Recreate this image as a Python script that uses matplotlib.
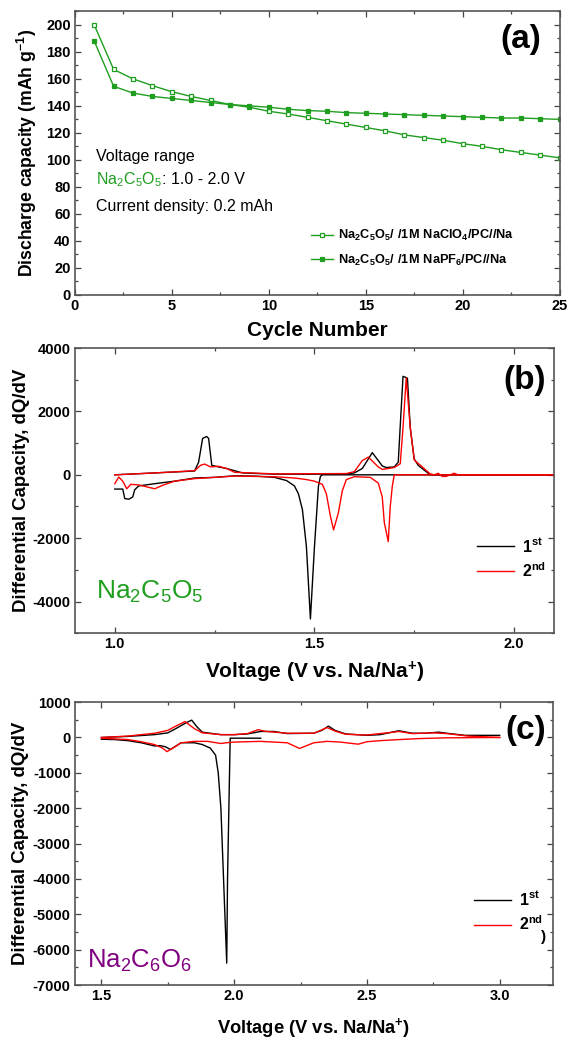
import numpy as np
import matplotlib
matplotlib.use('Agg')
import matplotlib.pyplot as plt
from matplotlib.ticker import MultipleLocator
from matplotlib.transforms import offset_copy

plt.rcParams['font.family'] = ['Liberation Sans', 'DejaVu Sans']
plt.rcParams['mathtext.fontset'] = 'custom'
plt.rcParams['mathtext.rm'] = 'Liberation Sans'
plt.rcParams['mathtext.bf'] = 'Liberation Sans:bold'
plt.rcParams['mathtext.default'] = 'regular'
plt.rcParams['axes.unicode_minus'] = False

GREEN = '#1f9e1f'
PURPLE = '#800080'

# ---- (a) discharge capacity vs cycle
cycles = np.arange(1, 26)
cap_clo4 = [200, 167, 160, 155, 150.5, 147, 144, 141, 139, 136, 134, 131.5, 129,
            126.5, 124, 121.5, 118.5, 116.5, 114.5, 112, 110, 107.5, 105.5, 103.5, 101.5]
cap_pf6 = [188, 154.5, 149.5, 147, 145.5, 144, 142.5, 141, 140, 139, 137.5, 136.5, 136,
           135, 134.5, 134, 133.5, 133, 132.5, 132, 131.5, 131, 131, 130.5, 130]
label_clo4 = r'$\mathbf{Na_2C_5O_5/\ /1M\ NaClO_4/PC//Na}$'
label_pf6 = r'$\mathbf{Na_2C_5O_5/\ /1M\ NaPF_6/PC//Na}$'

# ---- (b) dQ/dV Na2C5O5
b1_chg_v = [1.00, 1.10, 1.20, 1.21, 1.22, 1.23, 1.235, 1.243, 1.26, 1.28, 1.32, 1.40, 1.50,
            1.58, 1.60, 1.62, 1.635, 1.645, 1.66, 1.67, 1.68, 1.70, 1.71, 1.717, 1.722,
            1.728, 1.733, 1.74, 1.75, 1.76, 1.78, 1.79, 2.10]
b1_chg_q = [0, 60, 120, 400, 1150, 1210, 1150, 300, 250, 200, 60, 20, 20,
            30, 60, 200, 500, 700, 450, 280, 230, 250, 400, 2000, 3110,
            3080, 3050, 1500, 500, 300, 100, 0, 0]
b1_dis_v = [2.10, 1.52, 1.515, 1.51, 1.50, 1.49, 1.48, 1.47, 1.46, 1.45, 1.43, 1.40,
            1.35, 1.30, 1.25, 1.20, 1.15, 1.10, 1.06, 1.05, 1.045, 1.035, 1.025, 1.02, 1.00]
b1_dis_q = [0, 0, -50, -370, -2300, -4550, -2270, -1100, -600, -350, -180, -80,
            -40, -30, -80, -100, -200, -280, -350, -470, -700, -770, -750, -450, -450]
b2_chg_v = [1.00, 1.10, 1.20, 1.215, 1.225, 1.24, 1.26, 1.28, 1.30, 1.40, 1.58, 1.60,
            1.62, 1.635, 1.66, 1.67, 1.70, 1.715, 1.722, 1.73, 1.74, 1.75, 1.77, 1.79,
            1.80, 1.81, 1.82, 1.83, 1.84, 1.85, 1.86, 2.10]
b2_chg_q = [0, 60, 130, 300, 340, 250, 270, 200, 80, 30, 40, 100,
            450, 560, 250, 170, 230, 350, 1500, 3060, 1500, 470, 250, 30,
            0, 50, -50, -50, 0, 50, 0, 0]
b2_dis_v = [2.10, 1.70, 1.695, 1.69, 1.685, 1.675, 1.67, 1.66, 1.64, 1.60, 1.58, 1.57,
            1.56, 1.548, 1.54, 1.53, 1.52, 1.50, 1.48, 1.45, 1.40, 1.30, 1.20, 1.15,
            1.12, 1.10, 1.08, 1.06, 1.04, 1.03, 1.02, 1.01, 1.00]
b2_dis_q = [0, 0, -370, -1000, -2110, -1500, -700, -260, -80, -60, -150, -500,
            -1200, -1740, -1300, -600, -300, -200, -150, -100, -60, -40, -120, -200,
            -330, -440, -380, -320, -300, -440, -200, -70, -280]

# ---- (c) dQ/dV Na2C6O6
c1_chg_v = [1.50, 1.60, 1.70, 1.75, 1.78, 1.82, 1.84, 1.86, 1.88, 1.95, 2.00, 2.05, 2.10,
            2.15, 2.20, 2.30, 2.33, 2.355, 2.38, 2.42, 2.50, 2.55, 2.62, 2.67, 2.72,
            2.77, 2.80, 2.87, 3.00]
c1_chg_q = [0, 30, 80, 130, 250, 420, 490, 300, 150, 80, 80, 100, 170,
            170, 110, 120, 200, 320, 200, 100, 60, 80, 190, 120, 120,
            150, 120, 60, 60]
c2_chg_v = [1.50, 1.60, 1.70, 1.75, 1.78, 1.815, 1.85, 1.88, 1.95, 2.00, 2.05, 2.09,
            2.12, 2.20, 2.30, 2.35, 2.38, 2.42, 2.50, 2.60, 2.62, 2.67, 2.75, 2.80,
            2.88, 3.00]
c2_chg_q = [0, 40, 120, 200, 320, 450, 250, 130, 80, 80, 110, 220,
            170, 120, 120, 280, 180, 90, 70, 150, 170, 110, 130, 110,
            40, 0]
c1_dis_v = [2.10, 1.985, 1.975, 1.972, 1.965, 1.96, 1.95, 1.94, 1.93, 1.91, 1.88, 1.85,
            1.80, 1.76, 1.74, 1.72, 1.70, 1.65, 1.60, 1.55, 1.50]
c1_dis_q = [-20, -20, -4000, -6380, -5000, -4000, -2000, -1000, -500, -300, -200, -150,
            -150, -340, -260, -230, -240, -150, -90, -60, -50]
c2_dis_v = [3.00, 2.80, 2.70, 2.62, 2.55, 2.50, 2.467, 2.40, 2.35, 2.30, 2.246, 2.20,
            2.10, 2.00, 1.97, 1.95, 1.90, 1.85, 1.80, 1.78, 1.747, 1.73, 1.70, 1.65,
            1.60, 1.50]
c2_dis_q = [0, -10, -30, -60, -90, -120, -190, -130, -110, -150, -310, -150,
            -110, -130, -150, -170, -110, -110, -150, -250, -400, -300, -200, -120,
            -60, -20]

first_lab = r'1$^{\mathbf{st}}$'
second_lab = r'2$^{\mathbf{nd}}$'
volt_lab = r'Voltage (V vs. Na/Na$^{\mathbf{+}}$)'


def style_axes(ax):
    for s in ax.spines.values():
        s.set_color('#555555')
        s.set_linewidth(1.2)
    ax.tick_params(which='both', direction='in', top=True, right=True,
                   labelsize=10.5, width=0.9, color='#444444', pad=3)
    ax.tick_params(which='major', length=4)
    ax.tick_params(which='minor', length=2.5)
    for lab in ax.get_xticklabels() + ax.get_yticklabels():
        lab.set_fontweight('bold')


fig = plt.figure(figsize=(5.67, 10.38), dpi=100)

# (a)
ax1 = fig.add_axes([0.132, 0.716, 0.855, 0.273])
ax1.plot(cycles, cap_clo4, '-s', color=GREEN, lw=1, ms=3.2, mfc='white', mew=0.9,
         label=label_clo4)
ax1.plot(cycles, cap_pf6, '-s', color=GREEN, lw=1, ms=3.2, mew=0.9, label=label_pf6)
ax1.set_xlim(0, 25)
ax1.set_ylim(0, 210)
ax1.xaxis.set_major_locator(MultipleLocator(5))
ax1.xaxis.set_minor_locator(MultipleLocator(2.5))
ax1.yaxis.set_major_locator(MultipleLocator(20))
ax1.yaxis.set_minor_locator(MultipleLocator(10))
ax1.set_xlabel('Cycle Number', fontsize=15, fontweight='bold', labelpad=6)
ax1.set_ylabel(r'Discharge capacity (mAh g$^{\mathbf{-1}}$)', fontsize=12.7,
               fontweight='bold', labelpad=5)
style_axes(ax1)
ax1.text(0.961, 0.90, '(a)', transform=ax1.transAxes, ha='right', va='center',
         fontsize=24, fontweight='bold')
ax1.text(0.043, 0.488, 'Voltage range', transform=ax1.transAxes, fontsize=11.5, va='center')
t_na = ax1.text(0.043, 0.406, r'Na$_2$C$_5$O$_5$', transform=ax1.transAxes, fontsize=11.5,
                color=GREEN, va='center')
fig.canvas.draw()
w_na = t_na.get_window_extent().width
ax1.text(0.043, 0.406, ': 1.0 - 2.0 V', fontsize=11.5, va='center',
         transform=offset_copy(ax1.transAxes, fig=fig, x=w_na, y=0, units='dots'))
ax1.text(0.043, 0.311, 'Current density: 0.2 mAh', transform=ax1.transAxes, fontsize=11.5,
         va='center')
ax1.legend(loc='upper left', bbox_to_anchor=(0.487, 0.235), frameon=False,
           prop={'size': 9.2}, handlelength=1.7, handletextpad=0.4, labelspacing=0.75,
           borderpad=0, borderaxespad=0)

# (b)
ax2 = fig.add_axes([0.132, 0.390, 0.845, 0.2746])
ax2.plot(b1_chg_v, b1_chg_q, color='black', lw=1, label=first_lab)
ax2.plot(b1_dis_v, b1_dis_q, color='black', lw=1)
ax2.plot(b2_chg_v, b2_chg_q, color='red', lw=1, label=second_lab)
ax2.plot(b2_dis_v, b2_dis_q, color='red', lw=1)
ax2.set_xlim(0.9, 2.1)
ax2.set_ylim(-5000, 4000)
ax2.xaxis.set_major_locator(MultipleLocator(0.5))
ax2.xaxis.set_minor_locator(MultipleLocator(0.25))
ax2.yaxis.set_major_locator(MultipleLocator(2000))
ax2.yaxis.set_minor_locator(MultipleLocator(1000))
ax2.set_xlabel(volt_lab, fontsize=15, fontweight='bold', labelpad=6)
ax2.set_ylabel('Differential Capacity, dQ/dV', fontsize=13.4, fontweight='bold', labelpad=2)
style_axes(ax2)
ax2.text(0.983, 0.888, '(b)', transform=ax2.transAxes, ha='right', va='center',
         fontsize=24, fontweight='bold')
ax2.text(0.045, 0.12, r'Na$_2$C$_5$O$_5$', transform=ax2.transAxes, fontsize=19, color=GREEN)
ax2.legend(loc='upper left', bbox_to_anchor=(0.839, 0.338), frameon=False,
           prop={'size': 11.5, 'weight': 'bold'}, handlelength=2.3, handletextpad=0.5,
           labelspacing=0.4, borderpad=0, borderaxespad=0)

# (c)
ax3 = fig.add_axes([0.132, 0.051, 0.843, 0.2726])
ax3.plot(c1_chg_v, c1_chg_q, color='black', lw=1, label=first_lab)
ax3.plot(c1_dis_v, c1_dis_q, color='black', lw=1)
ax3.plot(c2_chg_v, c2_chg_q, color='red', lw=1, label=second_lab)
ax3.plot(c2_dis_v, c2_dis_q, color='red', lw=1)
ax3.set_xlim(1.4, 3.2)
ax3.set_ylim(-7000, 1000)
ax3.xaxis.set_major_locator(MultipleLocator(0.5))
ax3.xaxis.set_minor_locator(MultipleLocator(0.25))
ax3.yaxis.set_major_locator(MultipleLocator(1000))
ax3.yaxis.set_minor_locator(MultipleLocator(500))
ax3.set_xlabel(volt_lab, fontsize=13.2, fontweight='bold', labelpad=9)
ax3.set_ylabel('Differential Capacity, dQ/dV', fontsize=13.4, fontweight='bold', labelpad=3)
style_axes(ax3)
ax3.text(0.985, 0.90, '(c)', transform=ax3.transAxes, ha='right', va='center',
         fontsize=24, fontweight='bold')
ax3.text(0.025, 0.06, r'Na$_2$C$_6$O$_6$', transform=ax3.transAxes, fontsize=18.5,
         color=PURPLE)
ax3.text(0.975, 0.155, ')', transform=ax3.transAxes, fontsize=11, fontweight='bold')
ax3.legend(loc='upper left', bbox_to_anchor=(0.835, 0.335), frameon=False,
           prop={'size': 11.5, 'weight': 'bold'}, handlelength=2.3, handletextpad=0.5,
           labelspacing=0.4, borderpad=0, borderaxespad=0)

fig.savefig('out.png', dpi=100)
